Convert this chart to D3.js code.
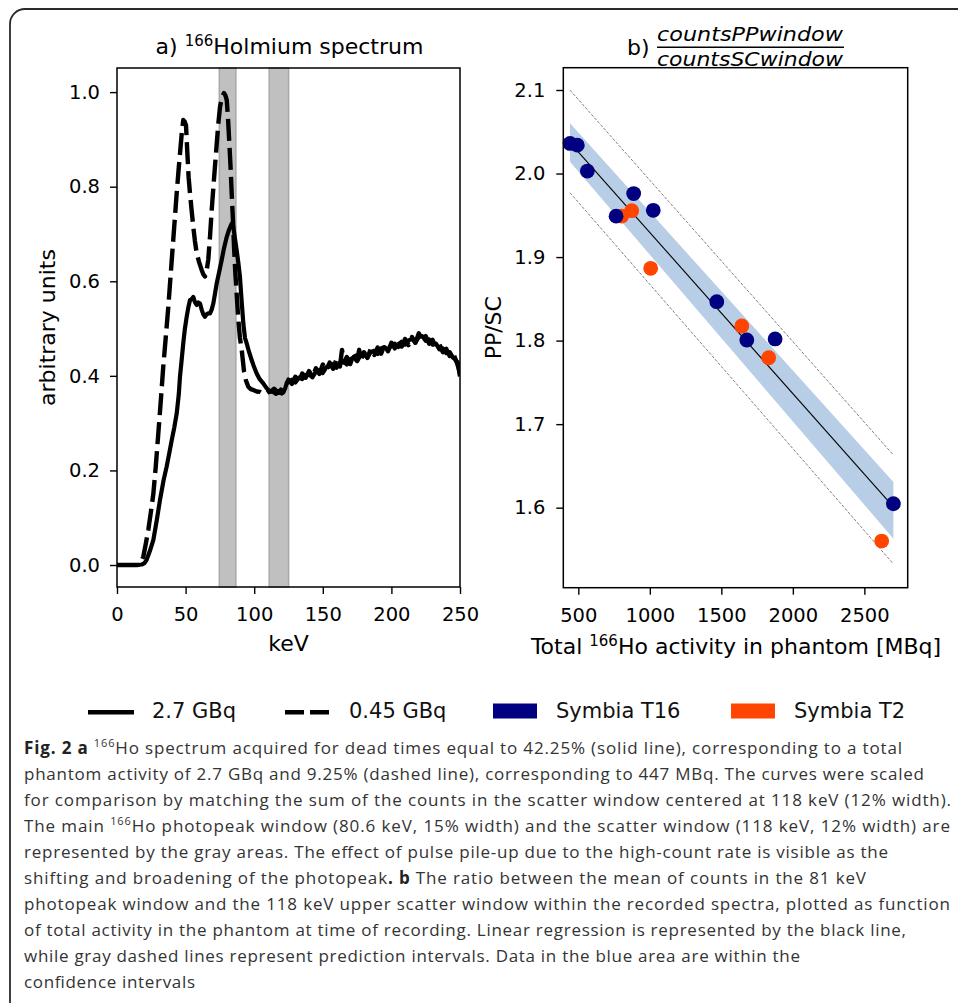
<!DOCTYPE html>
<html><head><meta charset="utf-8">
<script src="https://cdn.jsdelivr.net/npm/d3@7"></script>
<style>body{margin:0;background:#fff}svg{display:block}</style>
</head><body>
<svg id="c" width="958" height="1003"></svg>
<script>
// ---------- data: panel a (spectra) ----------
const solidKeV = [0,5,10,15,18,20,21.6,24,26.5,29,31.3,34,36.2,38,39.9,41.7,43.5,45,45.9,47,48.3,49.5,50.8,52,53.2,54.4,55.6,56.8,58.1,59.3,60.5,61.7,62.9,64.1,65.3,66.5,67.8,69,70.2,71.5,72.7,74.5,76.3,78,80,81.8,83.6,84.8,86,87.2,88.4,89.6,90.8,92.1,93.3,94.5,96.3,98.2,100,101.8,104,106.6,109,111.5,113,114.5,116.4,118,119.5,121.2,122.5,123.7,125,127.5,130,132.5,135,137.5,140,142.5,145,147.5,150,152.5,155,157.5,160,162.5,165,167.5,170,172.5,175,177.5,180,182.5,185,187.5,190,192.5,195,197.5,200,202.5,205,207.5,210,212.5,215,217.5,220,222.5,225,227.5,230,232.5,235,237.5,240,242.5,245,247,248.5,250];
const solidVal = [0,0,0,0,0.001,0.004,0.011,0.03,0.053,0.095,0.137,0.18,0.208,0.235,0.264,0.29,0.32,0.36,0.398,0.43,0.469,0.5,0.525,0.545,0.56,0.562,0.567,0.556,0.55,0.555,0.553,0.54,0.53,0.525,0.53,0.532,0.532,0.54,0.553,0.575,0.596,0.62,0.645,0.67,0.694,0.71,0.722,0.715,0.69,0.666,0.64,0.61,0.56,0.51,0.48,0.469,0.45,0.433,0.418,0.405,0.393,0.384,0.374,0.366,0.369,0.373,0.368,0.364,0.371,0.365,0.373,0.384,0.387,0.392,0.386,0.396,0.393,0.401,0.403,0.397,0.409,0.412,0.406,0.418,0.42,0.425,0.417,0.428,0.431,0.424,0.435,0.439,0.431,0.443,0.446,0.439,0.45,0.453,0.446,0.458,0.461,0.454,0.465,0.468,0.461,0.472,0.466,0.475,0.478,0.471,0.482,0.484,0.474,0.477,0.466,0.468,0.456,0.458,0.448,0.45,0.438,0.434,0.42,0.405];
const dashedKeV = [0,5,10,15,17,19.2,21,22.8,24.6,26.5,28.3,30.1,32,33.7,35.5,37.4,39.9,41.7,43.5,45.3,47.2,48.3,49.3,50.3,51.3,52.2,53.2,54.4,55.6,56.8,58.1,59.9,61.7,62.9,64.1,65.3,66.5,67.8,69,70.8,72.7,73.9,75.1,76.5,78,79,80,81,81.9,82.8,83.6,84.5,85.3,86.2,87.2,88.4,89.6,90.9,92.6,94,95.7,97.5,99.3,101.8,104.2,106.6,109.1,111.5,113.9,116,118,120,122,123.7,125,127.5,130,132.5,135,137.5,140,142.5,145,147.5,150,152.5,155,157.5,160,162.5,164,165.5,167.5,170,172.5,175,176.5,178,180,182.5,185,187.5,190,192.5,195,197.5,200,202.5,205,207.5,210,212.5,215,217.5,220,222.5,225,227.5,230,232.5,235,237.5,240,242.5,245,247,248.5,250];
const dashedVal = [0,0,0,0,0.002,0.018,0.045,0.074,0.11,0.151,0.21,0.278,0.35,0.419,0.48,0.546,0.645,0.715,0.786,0.85,0.913,0.941,0.938,0.93,0.87,0.82,0.786,0.75,0.715,0.685,0.659,0.64,0.624,0.615,0.61,0.622,0.645,0.695,0.75,0.82,0.891,0.935,0.969,0.99,0.998,0.993,0.983,0.94,0.891,0.84,0.786,0.73,0.673,0.62,0.574,0.52,0.48,0.455,0.409,0.39,0.377,0.372,0.37,0.367,0.366,0.362,0.363,0.368,0.366,0.362,0.368,0.363,0.37,0.384,0.392,0.383,0.398,0.387,0.405,0.396,0.41,0.398,0.416,0.404,0.424,0.412,0.428,0.415,0.435,0.42,0.455,0.428,0.44,0.425,0.447,0.432,0.455,0.435,0.45,0.438,0.457,0.444,0.46,0.447,0.466,0.452,0.47,0.458,0.474,0.462,0.478,0.465,0.482,0.47,0.49,0.475,0.484,0.468,0.476,0.46,0.467,0.45,0.457,0.442,0.449,0.432,0.428,0.398];
const windowsKeV = [[74.56, 86.65], [110.92, 125.08]];
const xTicksA = [0, 50, 100, 150, 200, 250];
const yTicksA = [0.0, 0.2, 0.4, 0.6, 0.8, 1.0];

// ---------- data: panel b (ratio vs activity) ----------
const t16Activity = [442, 493, 563, 764, 887, 1024, 1468, 1678, 1876, 2703];
const t16Ratio    = [2.036, 2.034, 2.003, 1.949, 1.976, 1.956, 1.8466, 1.8007, 1.802, 1.6047];
const t2Activity  = [803, 873, 1006, 1643, 1831, 2621];
const t2Ratio     = [1.949, 1.9555, 1.8865, 1.8175, 1.7795, 1.56];
const fitX   = [442, 2703];
const fitY   = [2.037, 1.601];
const ciLow  = [2.0142, 1.5629];
const ciHigh = [2.0601, 1.6307];
const piLow  = [1.977, 1.5326];
const piHigh = [2.0998, 1.663];
const xTicksB = [500, 1000, 1500, 2000, 2500];
const yTicksB = [1.6, 1.7, 1.8, 1.9, 2.0, 2.1];

// ---------- legend / caption ----------
const legendLines = [["2.7 GBq", "solid"], ["0.45 GBq", "dashed"]];
const legendPatches = [["Symbia T16", "#000080"], ["Symbia T2", "#ff4500"]];
const captionLines = [
  [["Fig. 2 a","b"],[" ",""],["166","sup"],["Ho spectrum acquired for dead times equal to 42.25% (solid line), corresponding to a total",""]],
  [["phantom activity of 2.7 GBq and 9.25% (dashed line), corresponding to 447 MBq. The curves were scaled",""]],
  [["for comparison by matching the sum of the counts in the scatter window centered at 118 keV (12% width).",""]],
  [["The main ",""],["166","sup"],["Ho photopeak window (80.6 keV, 15% width) and the scatter window (118 keV, 12% width) are",""]],
  [["represented by the gray areas. The effect of pulse pile-up due to the high-count rate is visible as the",""]],
  [["shifting and broadening of the photopeak",""],[". b","b"],[" The ratio between the mean of counts in the 81 keV",""]],
  [["photopeak window and the 118 keV upper scatter window within the recorded spectra, plotted as function",""]],
  [["of total activity in the phantom at time of recording. Linear regression is represented by the black line,",""]],
  [["while gray dashed lines represent prediction intervals. Data in the blue area are within the",""]],
  [["confidence intervals",""]]
];
const captionEnds = [902, 924, 951, 950, 888, 866, 950, 906, 800, 195];

// ---------- drawing ----------
const svg = d3.select("#c");
const FONT = "'DejaVu Sans', sans-serif";
const LABEL = 22;

svg.append("rect").attr("x",10).attr("y",9).attr("width",1000).attr("height",1060)
  .attr("rx",15).attr("fill","none").attr("stroke","#2a2a2a").attr("stroke-width",1.8);

function styleAxis(g){
  g.selectAll("path.domain").remove();
  g.selectAll("line").attr("stroke","#000").attr("stroke-width",1.4);
  g.selectAll("text").attr("font-family",FONT).attr("font-size",19.5).attr("fill","#000");
}

// ===== Panel a =====
const xA = d3.scaleLinear([0,250],[117,460]);
const yA = d3.scaleLinear([-0.0465,1.051],[587,68]);
const gA = svg.append("g");
gA.append("defs").append("clipPath").attr("id","clipA").append("rect")
  .attr("x",117).attr("y",68).attr("width",343).attr("height",519);
gA.selectAll("rect.win").data(windowsKeV).join("rect").attr("class","win")
  .attr("x",d=>xA(d[0])).attr("y",68).attr("width",d=>xA(d[1])-xA(d[0])).attr("height",519)
  .attr("fill","#c0c0c0").attr("stroke","#a9a9a9").attr("stroke-width",1.5);
const lineA = d3.line().x(d=>xA(d[0])).y(d=>yA(d[1]));
gA.append("path").datum(solidKeV.map((k,i)=>[k,solidVal[i]]))
  .attr("d",lineA).attr("fill","none").attr("stroke","#000").attr("stroke-width",4.2)
  .attr("stroke-linejoin","round").attr("clip-path","url(#clipA)");
gA.append("path").datum(dashedKeV.map((k,i)=>[k,dashedVal[i]]))
  .attr("d",lineA).attr("fill","none").attr("stroke","#000").attr("stroke-width",4.4)
  .attr("stroke-dasharray","22,7").attr("stroke-linejoin","round").attr("clip-path","url(#clipA)");
gA.append("rect").attr("x",117).attr("y",68).attr("width",343).attr("height",519)
  .attr("fill","none").attr("stroke","#000").attr("stroke-width",1.5);
gA.append("g").attr("transform","translate(0,587)")
  .call(d3.axisBottom(xA).tickValues(xTicksA).tickFormat(d3.format("d")).tickSize(7).tickPadding(13).tickSizeOuter(0))
  .call(styleAxis);
gA.append("g").attr("transform","translate(117,0)")
  .call(d3.axisLeft(yA).tickValues(yTicksA).tickFormat(d3.format(".1f")).tickSize(7).tickPadding(10).tickSizeOuter(0))
  .call(styleAxis);
gA.append("text").attr("x",288.5).attr("y",651).attr("text-anchor","middle")
  .attr("font-family",FONT).attr("font-size",LABEL).text("keV");
gA.append("text").attr("transform","translate(55,327.5) rotate(-90)").attr("text-anchor","middle")
  .attr("font-family",FONT).attr("font-size",LABEL).text("arbitrary units");
const tA = gA.append("text").attr("x",289.5).attr("y",54).attr("text-anchor","middle")
  .attr("font-family",FONT).attr("font-size",LABEL);
tA.append("tspan").text("a) ");
tA.append("tspan").attr("dy",-8).attr("font-size",15).text("166");
tA.append("tspan").attr("dy",8).text("Holmium spectrum");

// ===== Panel b =====
const xB = d3.scaleLinear([395,2803],[563.3,907.7]);
const yB = d3.scaleLinear([1.5042,2.1267],[587.7,67.7]);
const gB = svg.append("g");
const band = fitX.map((x,i)=>({x, lo:ciLow[i], hi:ciHigh[i]}));
gB.append("path").datum(band)
  .attr("d", d3.area().x(d=>xB(d.x)).y0(d=>yB(d.lo)).y1(d=>yB(d.hi)))
  .attr("fill","#b8cde6");
[piLow, piHigh].forEach(arr=>{
  gB.append("path").datum(fitX.map((x,i)=>[x,arr[i]]))
    .attr("d", d3.line().x(d=>xB(d[0])).y(d=>yB(d[1])))
    .attr("fill","none").attr("stroke","#808080").attr("stroke-width",1).attr("stroke-dasharray","3,1.6");
});
gB.append("path").datum(fitX.map((x,i)=>[x,fitY[i]]))
  .attr("d", d3.line().x(d=>xB(d[0])).y(d=>yB(d[1])))
  .attr("fill","none").attr("stroke","#000").attr("stroke-width",1.1);
gB.selectAll("circle.t2").data(t2Activity.map((x,i)=>[x,t2Ratio[i]])).join("circle").attr("class","t2")
  .attr("cx",d=>xB(d[0])).attr("cy",d=>yB(d[1])).attr("r",7.4).attr("fill","#ff4500");
gB.selectAll("circle.t16").data(t16Activity.map((x,i)=>[x,t16Ratio[i]])).join("circle").attr("class","t16")
  .attr("cx",d=>xB(d[0])).attr("cy",d=>yB(d[1])).attr("r",7.4).attr("fill","#000080");
gB.append("rect").attr("x",563.3).attr("y",67.7).attr("width",344.4).attr("height",520)
  .attr("fill","none").attr("stroke","#000").attr("stroke-width",1.5);
gB.append("g").attr("transform","translate(0,587.7)")
  .call(d3.axisBottom(xB).tickValues(xTicksB).tickFormat(d3.format("d")).tickSize(7).tickPadding(13).tickSizeOuter(0))
  .call(styleAxis);
gB.append("g").attr("transform","translate(563.3,0)")
  .call(d3.axisLeft(yB).tickValues(yTicksB).tickFormat(d3.format(".1f")).tickSize(7).tickPadding(11).tickSizeOuter(0))
  .call(styleAxis);
const xlB = gB.append("text").attr("x",736).attr("y",654).attr("text-anchor","middle")
  .attr("font-family",FONT).attr("font-size",LABEL);
xlB.append("tspan").text("Total ");
xlB.append("tspan").attr("dy",-8).attr("font-size",15).text("166");
xlB.append("tspan").attr("dy",8).text("Ho activity in phantom [MBq]");
gB.append("text").attr("transform","translate(501,327.7) rotate(-90)").attr("text-anchor","middle")
  .attr("font-family",FONT).attr("font-size",LABEL).text("PP/SC");
gB.append("text").attr("x",627).attr("y",55).attr("font-family",FONT).attr("font-size",LABEL).text("b)");
gB.append("text").attr("x",657).attr("y",41).attr("font-family",FONT).attr("font-style","italic")
  .attr("font-size",20).attr("textLength",186).attr("lengthAdjust","spacingAndGlyphs").text("countsPPwindow");
gB.append("line").attr("x1",657).attr("x2",844).attr("y1",47.3).attr("y2",47.3)
  .attr("stroke","#000").attr("stroke-width",1.4);
gB.append("text").attr("x",657).attr("y",65.5).attr("font-family",FONT).attr("font-style","italic")
  .attr("font-size",20).attr("textLength",186).attr("lengthAdjust","spacingAndGlyphs").text("countsSCwindow");

// ===== Legend =====
const legX = [88, 285];
legendLines.forEach((d,i)=>{
  svg.append("line").attr("x1",legX[i]).attr("x2",legX[i]+46).attr("y1",712.3).attr("y2",712.3)
    .attr("stroke","#000").attr("stroke-width",4.5)
    .attr("stroke-dasharray", d[1]==="dashed" ? "19,6" : null);
  svg.append("text").attr("x",legX[i]+64).attr("y",718).attr("font-family",FONT).attr("font-size",21)
    .attr("fill","#111").text(d[0]);
});
const patchX = [493, 731];
legendPatches.forEach((d,i)=>{
  svg.append("rect").attr("x",patchX[i]).attr("y",703.5).attr("width",44).attr("height",15).attr("fill",d[1]);
  svg.append("text").attr("x",patchX[i]+63).attr("y",718).attr("font-family",FONT).attr("font-size",21)
    .attr("fill","#111").text(d[0]);
});

// ===== Caption =====
captionLines.forEach((parts,i)=>{
  const t = svg.append("text").attr("x",24).attr("y",754+26*i)
    .attr("font-family","'Open Sans', 'Noto Sans', sans-serif").attr("font-size",17).attr("fill","#333")
    .attr("textLength",captionEnds[i]-24).attr("lengthAdjust","spacing");
  let raised = false;
  parts.forEach(p=>{
    const s = t.append("tspan").text(p[0]);
    if (p[1]==="b") s.attr("font-weight","bold").attr("fill","#222");
    if (p[1]==="sup") { s.attr("font-size",11).attr("dy",-7); raised = true; }
    else if (raised) { s.attr("dy",7); raised = false; }
  });
});
</script>
</body></html>
